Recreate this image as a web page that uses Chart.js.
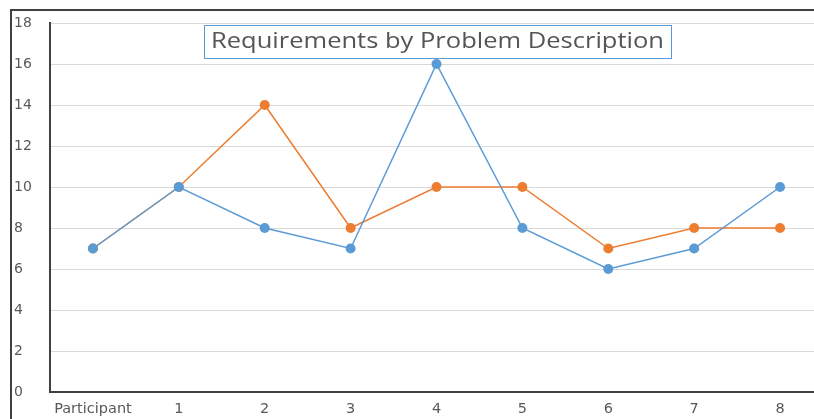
<!DOCTYPE html>
<html>
<head>
<meta charset="utf-8">
<script src="https://cdn.jsdelivr.net/npm/chart.js@4"></script>
<style>
  html, body { margin: 0; padding: 0; background: #fff; overflow: hidden; }
  #frame {
    position: absolute; left: 10px; top: 9px;
    width: 830px; height: 420px;
    border-top: 2px solid #404040; border-left: 2px solid #404040;
  }
  #wrap { position: absolute; left: 0; top: 0; width: 816px; height: 408px; }
</style>
</head>
<body>
<div id="frame"><div id="wrap"><canvas id="chart"></canvas></div></div>
<script>
const categories = ['Participant', '1', '2', '3', '4', '5', '6', '7', '8'];
const blueValues = [7, 10, 8, 7, 16, 8, 6, 7, 10];
const orangeValues = [7, 10, 14, 8, 10, 10, 7, 8, 8];
const titleText = 'Requirements by Problem Description';

// title sits in a bordered box inside the plot area, text a bit stretched like the original
const boxTitle = {
  id: 'boxTitle',
  afterDatasetsDraw(chart) {
    const ctx = chart.ctx;
    const area = chart.chartArea;
    ctx.save();
    ctx.font = '21px "Open Sans", sans-serif';
    const textW = 453;
    const sx = textW / ctx.measureText(titleText).width;
    const cx = (area.left + area.right) / 2 + 1;
    const x = cx - textW / 2 - 7, y = 14, h = 33;
    ctx.fillStyle = '#fff';
    ctx.fillRect(x, y, textW + 14, h);
    ctx.strokeStyle = '#5b9bd5';
    ctx.lineWidth = 1;
    ctx.strokeRect(Math.round(x) + 0.5, y + 0.5, textW + 14, h);
    ctx.fillStyle = '#555555';
    ctx.textAlign = 'center';
    ctx.textBaseline = 'middle';
    ctx.translate(cx, y + h / 2 + 1);
    ctx.scale(sx, 1);
    ctx.fillText(titleText, 0, 0);
    ctx.restore();
  }
};

new Chart(document.getElementById('chart'), {
  type: 'line',
  data: {
    labels: categories,
    datasets: [
      {
        data: blueValues,
        borderColor: '#5b9bd5',
        backgroundColor: '#5b9bd5',
        borderWidth: 1.5,
        pointRadius: 5,
        pointBorderWidth: 0,
        tension: 0
      },
      {
        data: orangeValues,
        borderColor: '#ed7d31',
        backgroundColor: '#ed7d31',
        borderWidth: 1.5,
        pointRadius: 5,
        pointBorderWidth: 0,
        tension: 0
      }
    ]
  },
  options: {
    responsive: true,
    maintainAspectRatio: false,
    animation: false,
    layout: { padding: { top: 12, right: 0, left: 2, bottom: 0 } },
    plugins: {
      legend: { display: false },
      title: { display: false },
      tooltip: { enabled: false }
    },
    scales: {
      x: {
        offset: true,
        grid: { display: false, drawTicks: false },
        border: { color: '#404040', width: 2 },
        ticks: {
          color: '#595959',
          font: { family: '"DejaVu Sans", sans-serif', size: 14.5 },
          padding: 9,
          maxRotation: 0,
          autoSkip: false
        },
        afterFit(scale) { scale.height = 27; }
      },
      y: {
        min: 0,
        max: 18,
        grid: { color: '#d9d9d9', drawTicks: false },
        border: { color: '#404040', width: 2 },
        ticks: {
          stepSize: 2,
          color: '#595959',
          crossAlign: 'far',
          padding: 0,
          font: { family: '"DejaVu Sans", sans-serif', size: 14 }
        },
        afterFit(scale) { scale.width = 36; }
      }
    }
  },
  plugins: [boxTitle]
});
</script>
</body>
</html>
